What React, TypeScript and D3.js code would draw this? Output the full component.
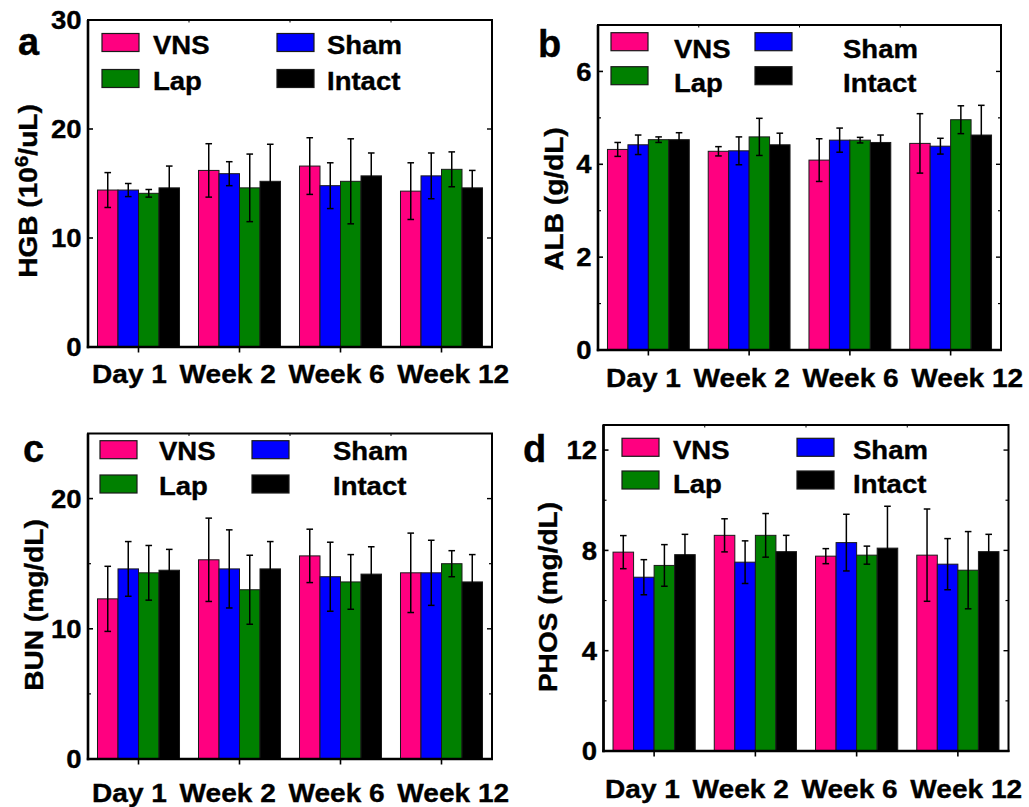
import React from "react";
import * as d3 from "d3";

const categories = ["Day 1", "Week 2", "Week 6", "Week 12"];
const seriesNames = ["VNS", "Sham", "Lap", "Intact"];
const seriesColors = ["#ff0080", "#0000ff", "#008000", "#000000"];

// values per category: [VNS, Sham, Lap, Intact]
const hgbMeans = [
  [14.4, 14.4, 14.1, 14.6],
  [16.2, 15.9, 14.6, 15.2],
  [16.6, 14.8, 15.2, 15.7],
  [14.3, 15.7, 16.3, 14.6],
];
const hgbErrors = [
  [1.6, 0.6, 0.35, 2.0],
  [2.45, 1.1, 3.1, 3.4],
  [2.6, 2.1, 3.9, 2.1],
  [2.6, 2.1, 1.6, 1.6],
];
const albMeans = [
  [4.32, 4.42, 4.53, 4.53],
  [4.28, 4.29, 4.59, 4.42],
  [4.09, 4.52, 4.52, 4.47],
  [4.45, 4.39, 4.96, 4.63],
];
const albErrors = [
  [0.15, 0.21, 0.06, 0.15],
  [0.1, 0.3, 0.4, 0.25],
  [0.46, 0.26, 0.06, 0.16],
  [0.64, 0.17, 0.3, 0.64],
];
const bunMeans = [
  [12.3, 14.6, 14.3, 14.5],
  [15.3, 14.6, 13.0, 14.6],
  [15.6, 14.0, 13.6, 14.2],
  [14.3, 14.3, 15.0, 13.6],
];
const bunErrors = [
  [2.5, 2.1, 2.1, 1.6],
  [3.2, 3.0, 2.65, 2.1],
  [2.05, 2.65, 2.1, 2.1],
  [3.05, 2.5, 1.0, 2.1],
];
const phosMeans = [
  [7.93, 6.93, 7.4, 7.83],
  [8.6, 7.53, 8.6, 7.95],
  [7.77, 8.31, 7.81, 8.09],
  [7.81, 7.45, 7.21, 7.95],
];
const phosErrors = [
  [0.66, 0.7, 0.83, 0.81],
  [0.66, 0.85, 0.87, 0.65],
  [0.3, 1.13, 0.36, 1.67],
  [1.84, 1.02, 1.54, 0.69],
];

const hgbTicks = [0, 10, 20, 30];
const albTicks = [0, 2, 4, 6];
const bunTicks = [0, 10, 20];
const phosTicks = [0, 4, 8, 12];

const FONT = "'Liberation Sans', Arial, Helvetica, sans-serif";
const SX = 1.08;
const TXT_STROKE = 0.35;

type PanelCfg = {
  letter: string;
  letterX: number;
  letterY: number;
  left: number;
  right: number;
  top: number;
  bottom: number;
  yMax: number;
  ticks: number[];
  minor: number[];
  means: number[][];
  errors: number[][];
  title: React.ReactNode;
  titleX: number;
  titleY: number;
  xLabelX: number;
  xLabelY: number;
  legCol: [number, number];
  legText: [number, number];
  legRow: [number, number];
  legBase: [number, number];
};

const panels: PanelCfg[] = [
  {
    letter: "a", letterX: 18, letterY: 55,
    left: 88, right: 492, top: 20, bottom: 347, yMax: 30,
    ticks: hgbTicks, minor: [],
    means: hgbMeans, errors: hgbErrors,
    title: (
      <>
        HGB (10<tspan dy={-9} fontSize={19}>6</tspan>
        <tspan dy={9}>/uL)</tspan>
      </>
    ),
    titleX: 37, titleY: 191,
    xLabelX: 92, xLabelY: 383,
    legCol: [102, 277], legText: [153, 327], legRow: [33.5, 69.5], legBase: [54, 90],
  },
  {
    letter: "b", letterX: 538, letterY: 57,
    left: 598, right: 1001, top: 25, bottom: 350, yMax: 7,
    ticks: albTicks, minor: [1, 3, 5],
    means: albMeans, errors: albErrors,
    title: "ALB (g/dL)",
    titleX: 563, titleY: 199,
    xLabelX: 606, xLabelY: 386.5,
    legCol: [611, 755], legText: [674, 843], legRow: [32.7, 66.7], legBase: [57.5, 92],
  },
  {
    letter: "c", letterX: 23, letterY: 462,
    left: 88, right: 492, top: 433.5, bottom: 759, yMax: 25,
    ticks: bunTicks, minor: [5, 15],
    means: bunMeans, errors: bunErrors,
    title: "BUN (mg/dL)",
    titleX: 43, titleY: 605,
    xLabelX: 92, xLabelY: 801.5,
    legCol: [100, 252], legText: [159, 333], legRow: [440.7, 475], legBase: [459.5, 494.5],
  },
  {
    letter: "d", letterX: 523, letterY: 462,
    left: 603.5, right: 1008.5, top: 425, bottom: 751, yMax: 13,
    ticks: phosTicks, minor: [2, 6, 10],
    means: phosMeans, errors: phosErrors,
    title: "PHOS (mg/dL)",
    titleX: 557, titleY: 597,
    xLabelX: 605, xLabelY: 798,
    legCol: [622, 797], legText: [673, 853], legRow: [438.3, 471], legBase: [459.3, 493.3],
  },
];

const textProps = {
  fontFamily: FONT,
  fontWeight: "bold" as const,
  fill: "#000",
  stroke: "#000",
  strokeWidth: TXT_STROKE,
};

function Panel({ p }: { p: PanelCfg }) {
  const x0 = d3.scaleBand<string>().domain(categories).range([p.left, p.right]).padding(0);
  const step = x0.bandwidth();
  const x1 = d3
    .scaleBand<string>()
    .domain(seriesNames)
    .range([step * 0.094, step * 0.906])
    .padding(0);
  const y = d3.scaleLinear().domain([0, p.yMax]).range([p.bottom, p.top]);
  const bw = x1.bandwidth();
  const cap = 3.3;

  const legendOrder = [
    { s: 0, col: 0, row: 0 },
    { s: 1, col: 1, row: 0 },
    { s: 2, col: 0, row: 1 },
    { s: 3, col: 1, row: 1 },
  ];

  return (
    <g>
      {/* bars */}
      {categories.map((c, ci) => (
        <g key={c} transform={`translate(${x0(c)},0)`}>
          {seriesNames.map((s, si) => {
            const v = p.means[ci][si];
            return (
              <rect
                key={s}
                x={x1(s)}
                y={y(v)}
                width={bw}
                height={y(0) - y(v)}
                fill={seriesColors[si]}
                stroke="#1a1a1a"
                strokeWidth={1}
              />
            );
          })}
          {seriesNames.map((s, si) => {
            const v = p.means[ci][si];
            const e = p.errors[ci][si];
            const cx = (x1(s) as number) + bw / 2;
            return (
              <g key={s + "e"} stroke="#000" strokeWidth={1.5}>
                <line x1={cx} x2={cx} y1={y(v + e)} y2={y(v - e)} />
                <line x1={cx - cap} x2={cx + cap} y1={y(v + e)} y2={y(v + e)} />
                <line x1={cx - cap} x2={cx + cap} y1={y(v - e)} y2={y(v - e)} />
              </g>
            );
          })}
        </g>
      ))}

      {/* frame */}
      <rect
        x={p.left}
        y={p.top}
        width={p.right - p.left}
        height={p.bottom - p.top}
        fill="none"
        stroke="#000"
        strokeWidth={2}
      />
      <line x1={p.left} x2={p.left} y1={p.top} y2={p.bottom + 1.2} stroke="#000" strokeWidth={2.6} />
      <line x1={p.left - 1.2} x2={p.right + 1} y1={p.bottom} y2={p.bottom} stroke="#000" strokeWidth={2.6} />

      {/* y ticks */}
      {p.ticks.map((t) => (
        <g key={"t" + t}>
          <line x1={p.left} x2={p.left + 5} y1={y(t)} y2={y(t)} stroke="#000" strokeWidth={1.6} />
          <line x1={p.right} x2={p.right - 5} y1={y(t)} y2={y(t)} stroke="#000" strokeWidth={1.4} />
          <g transform={`translate(${p.left - 6.5},${y(t)}) scale(${SX},1)`}>
            <text textAnchor="end" dy="0.36em" fontSize={25.5} {...textProps}>
              {t}
            </text>
          </g>
        </g>
      ))}
      {p.minor.map((t) => (
        <g key={"m" + t}>
          <line x1={p.left} x2={p.left + 3} y1={y(t)} y2={y(t)} stroke="#000" strokeWidth={1.2} />
          <line x1={p.right} x2={p.right - 3} y1={y(t)} y2={y(t)} stroke="#000" strokeWidth={1.2} />
        </g>
      ))}

      {/* x ticks */}
      {categories.map((c) => {
        const cx = (x0(c) as number) + step / 2;
        return (
          <line key={"xt" + c} x1={cx} x2={cx} y1={p.bottom} y2={p.bottom + 5.5} stroke="#000" strokeWidth={1.6} />
        );
      })}
      {categories.slice(1).map((c) => {
        const bx = x0(c) as number;
        return (
          <line key={"tt" + c} x1={bx} x2={bx} y1={p.top} y2={p.top + 2.5} stroke="#000" strokeWidth={1} />
        );
      })}

      {/* x labels */}
      <g transform={`translate(${p.xLabelX},${p.xLabelY}) scale(${SX},1)`}>
        <text fontSize={26} {...textProps}>
          {categories.map((c, i) => (
            <tspan key={c} dx={i === 0 ? 0 : 4.5}>
              {(i === 0 ? "" : " ") + c}
            </tspan>
          ))}
        </text>
      </g>

      {/* y title */}
      <g transform={`translate(${p.titleX},${p.titleY}) rotate(-90) scale(${SX},1)`}>
        <text textAnchor="middle" fontSize={26} {...textProps}>
          {p.title}
        </text>
      </g>

      {/* panel letter */}
      <text x={p.letterX} y={p.letterY} fontSize={38} {...textProps}>
        {p.letter}
      </text>

      {/* legend */}
      {legendOrder.map(({ s, col, row }) => (
        <g key={"lg" + s}>
          <rect
            x={p.legCol[col]}
            y={p.legRow[row]}
            width={37}
            height={18}
            fill={seriesColors[s]}
            stroke="#1a1a1a"
            strokeWidth={1.2}
          />
          <g transform={`translate(${p.legText[col]},${p.legBase[row]}) scale(${SX},1)`}>
            <text fontSize={25.5} {...textProps}>
              {seriesNames[s]}
            </text>
          </g>
        </g>
      ))}
    </g>
  );
}

export default function App() {
  return (
    <svg
      width={1029}
      height={807}
      viewBox="0 0 1029 807"
      style={{ position: "absolute", left: 0, top: 0, background: "#fff" }}
    >
      <rect x={0} y={0} width={1029} height={807} fill="#fff" />
      {panels.map((p) => (
        <Panel key={p.letter} p={p} />
      ))}
    </svg>
  );
}
